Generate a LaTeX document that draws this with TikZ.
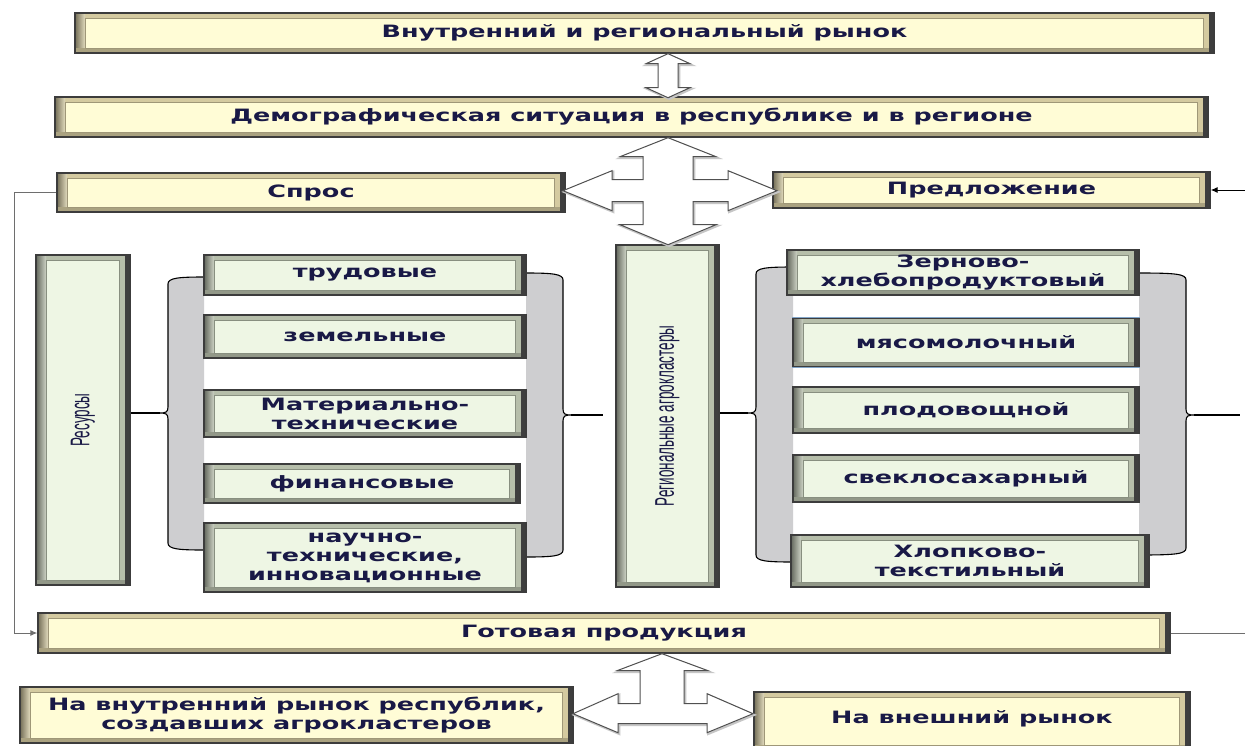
\documentclass[tikz,border=0pt]{standalone}
\usepackage{fontspec}
\usetikzlibrary{arrows.meta,calc}
\newfontfamily\boxfont[FakeStretch=1.5]{DejaVu Sans}
\newfontfamily\narrowfont[FakeStretch=0.5]{Liberation Sans}
\definecolor{facey}{RGB}{255,252,214}
\definecolor{bevy}{RGB}{212,202,160}
\definecolor{faceg}{RGB}{238,246,228}
\definecolor{bevg}{RGB}{182,190,170}
\definecolor{shadowc}{RGB}{62,62,62}
\definecolor{edgec}{RGB}{60,60,60}
\definecolor{txt}{RGB}{25,25,70}
\definecolor{brfill}{RGB}{206,206,208}
\definecolor{arrc}{RGB}{80,80,80}
\definecolor{fbline}{RGB}{110,110,110}
\newcommand{\mybraceL}[6]{% #1 xline, #2 xbox, #3 ytop, #4 ybot, #5 ytip, #6 xtip
  \fill[brfill] (#2,#3) .. controls ({#1+10},#3) and (#1,{#3+1}) .. (#1,{#3+7}) -- (#1,{#5-6}) .. controls (#1,{#5-1}) and ({#1-2},#5) .. (#6,#5) .. controls ({#1-2},#5) and (#1,{#5+1}) .. (#1,{#5+6}) -- (#1,{#4-7}) .. controls (#1,{#4-1}) and ({#1+10},#4) .. (#2,#4) -- cycle;
  \draw[brline] (#2,#3) .. controls ({#1+10},#3) and (#1,{#3+1}) .. (#1,{#3+7}) -- (#1,{#5-6}) .. controls (#1,{#5-1}) and ({#1-2},#5) .. (#6,#5) .. controls ({#1-2},#5) and (#1,{#5+1}) .. (#1,{#5+6}) -- (#1,{#4-7}) .. controls (#1,{#4-1}) and ({#1+10},#4) .. (#2,#4);
}
\newcommand{\mybraceR}[6]{% #1 xline, #2 xbox, #3 ytop, #4 ybot, #5 ytip, #6 xtip
  \fill[brfill] (#2,#3) .. controls ({#1-10},#3) and (#1,{#3+1}) .. (#1,{#3+7}) -- (#1,{#5-6}) .. controls (#1,{#5-1}) and ({#1+2},#5) .. (#6,#5) .. controls ({#1+2},#5) and (#1,{#5+1}) .. (#1,{#5+6}) -- (#1,{#4-7}) .. controls (#1,{#4-1}) and ({#1-10},#4) .. (#2,#4) -- cycle;
  \draw[brline] (#2,#3) .. controls ({#1-10},#3) and (#1,{#3+1}) .. (#1,{#3+7}) -- (#1,{#5-6}) .. controls (#1,{#5-1}) and ({#1+2},#5) .. (#6,#5) .. controls ({#1+2},#5) and (#1,{#5+1}) .. (#1,{#5+6}) -- (#1,{#4-7}) .. controls (#1,{#4-1}) and ({#1-10},#4) .. (#2,#4);
}
\tikzset{
  bev/.style n args={3}{fill=#2, path picture={
     \path (path picture bounding box.north west) coordinate (pnw)
           (path picture bounding box.south east) coordinate (pse)
           (path picture bounding box.south west) coordinate (psw)
           (path picture bounding box.north east) coordinate (pne);
     \shade[left color=#2!55!black, right color=#2!70!white] (pnw) rectangle ([xshift=10pt]psw);
     \fill[#2!80!black] ([yshift=5pt]psw) rectangle (pse);
     \fill[#1] ([shift={(10pt,-5pt)}]pnw) rectangle ([shift={(-11pt,5pt)}]pse);
     \draw[#2!75!black, line width=0.6pt] ([shift={(10pt,-5pt)}]pnw) rectangle ([shift={(-11pt,5pt)}]pse);
     \fill[shadowc] ([xshift=-5pt]pne) rectangle (pse);
  }},
  box/.style={rectangle, inner sep=0pt, align=center, text=txt, draw=edgec, line width=1.4pt,
     font=\boxfont\bfseries\fontsize{17}{19}\selectfont},
  ybox/.style={box, bev={facey}{bevy}{shadowc}},
  gbox/.style={box, bev={faceg}{bevg}{shadowc}},
  rotlabel/.style={rotate=90, text=txt, inner sep=0pt, font=\narrowfont\fontsize{27}{30}\selectfont},
  brline/.style={draw=black, line width=1.1pt},
  barrow/.style={fill=white, draw=arrc, line width=1pt, line join=miter,
     preaction={draw=gray!45, line width=2.2pt, transform canvas={shift={(1.2pt,-1.2pt)}}}},
  fb/.style={draw=fbline, line width=1pt},
  tip/.style={-{Latex[length=7pt,width=6pt]}}
}
\begin{document}
\begin{tikzpicture}[x=1pt,y=-1pt]
\fill[white] (0,0) rectangle (1245,745);
\useasboundingbox (0,0) rectangle (1245,745);

% grey braces
\mybraceL{168}{204}{277}{550}{413}{160}
\mybraceR{563}{526}{273}{557}{415}{571}
\mybraceL{756}{793}{267}{562}{413}{748}
\mybraceR{1186}{1139}{273}{555}{415}{1194}

% boxes
\node[ybox, minimum width=1139pt, minimum height=40pt] (top) at (644.5,33) {Внутренний и региональный рынок};
\node[ybox, minimum width=1153pt, minimum height=40pt] (demo) at (631.5,117) {Демографическая ситуация в республике и в регионе};
\node[ybox, minimum width=508pt, minimum height=39pt] (spros) at (311,192.5) {Спрос};
\node[ybox, minimum width=437pt, minimum height=36pt] (pred) at (991.5,190) {Предложение};

\node[gbox, minimum width=94pt, minimum height=330pt] (res) at (83,420) {};
\node[rotlabel] (reslbl) at (res.center) {Ресурсы};
\node[gbox, minimum width=322pt, minimum height=40pt] (trud) at (365,275) {трудовые};
\node[gbox, minimum width=322pt, minimum height=43pt] (zem) at (365,336.5) {земельные};
\node[gbox, minimum width=322pt, minimum height=47pt] (mat) at (365,413.5) {Материально-\\технические};
\node[gbox, minimum width=316pt, minimum height=39pt] (fin) at (362,483.5) {финансовые};
\node[gbox, minimum width=322pt, minimum height=69pt] (nauch) at (365,557.5) {научно-\\технические,\\инновационные};

\node[gbox, minimum width=103pt, minimum height=342pt] (reg) at (667.5,416) {};
\node[rotlabel] (reglbl) at (reg.center) {Региональные агрокластеры};

\node[gbox, minimum width=352pt, minimum height=45pt] (zern) at (963,272.5) {Зерново-\\хлебопродуктовый};
\node[gbox, minimum width=346pt, minimum height=49pt] (myas) at (966,342.5) {мясомолочный};
\node[gbox, minimum width=346pt, minimum height=46pt] (plod) at (966,410) {плодовощной};
\node[gbox, minimum width=346pt, minimum height=47pt] (svek) at (966,478.5) {свеклосахарный};
\node[gbox, minimum width=358pt, minimum height=52pt] (hlop) at (970,561) {Хлопково-\\текстильный};
\draw[draw={rgb,255:red,130;green,165;blue,200}, line width=1.2pt] (myas.north west) -- (myas.north east) (myas.south west) -- (myas.south east);

\node[ybox, minimum width=1132pt, minimum height=40pt] (gotov) at (604,633) {Готовая продукция};
\node[ybox, minimum width=553pt, minimum height=56pt] (vnutr) at (296.5,715) {На внутренний рынок республик,\\создавших агрокластеров};
\node[ybox, minimum width=436pt, minimum height=58pt, text depth=8pt] (vnesh) at (972,721) {На внешний рынок};

% brace tip connectors
\coordinate (rtipA) at (160,413);
\coordinate (rtipB) at (571,415);
\coordinate (rendB) at (603,415);
\coordinate (ctipA) at (748,413);
\coordinate (ctipB) at (1194,415);
\coordinate (cendB) at (1240,415);
\draw[brline] (rtipA) -- (rtipA -| res.east);
\draw[brline] (rtipB) -- (rendB);
\draw[brline] (ctipA) -- (ctipA -| reg.east);
\draw[brline] (ctipB) -- (cendB);

% side lines
\coordinate (rin) at (1245,190);
\coordinate (rout) at (1245,633);
\draw[fb, tip] (spros.west) -- ++(-42,0) |- (gotov.west);
\draw[fb, tip, draw=black] (rin) -- (pred.east);
\draw[fb] (gotov.east) -- (rout);

% block arrows
\coordinate (c4) at (668,191);
\draw[barrow] (c4 |- top.south) -- ++(22,10) -- ++(-12,0) -- ++(0,24) -- ++(12,0) -- ++(-22,10) -- ++(-22,-10) -- ++(12,0) -- ++(0,-24) -- ++(-12,0) -- cycle;
\draw[barrow] (c4 |- demo.south) -- ++(48,19) -- ++(-23,0) -- ++(0,23) -- ++(35,0) -- ++(0,-9) -- ++(49,20) -- ++(-49,20) -- ++(0,-9) -- ++(-35,0) -- ++(0,23) -- ++(23,0) -- ++(-48,20) -- ++(-48,-20) -- ++(23,0) -- ++(0,-23) -- ++(-31,0) -- ++(0,9) -- ++(-49,-20) -- ++(49,-20) -- ++(0,9) -- ++(31,0) -- ++(0,-23) -- ++(-23,0) -- cycle;
\coordinate (c3) at (662,713);
\draw[barrow] (c3 |- gotov.south) -- ++(46,17) -- ++(-24,0) -- ++(0,33) -- ++(23,0) -- ++(0,-10) -- ++(46,20) -- ++(-46,19) -- ++(0,-9) -- ++(-89,0) -- ++(0,9) -- ++(-45,-19) -- ++(45,-20) -- ++(0,10) -- ++(22,0) -- ++(0,-33) -- ++(-23,0) -- cycle;
\end{tikzpicture}
\end{document}
